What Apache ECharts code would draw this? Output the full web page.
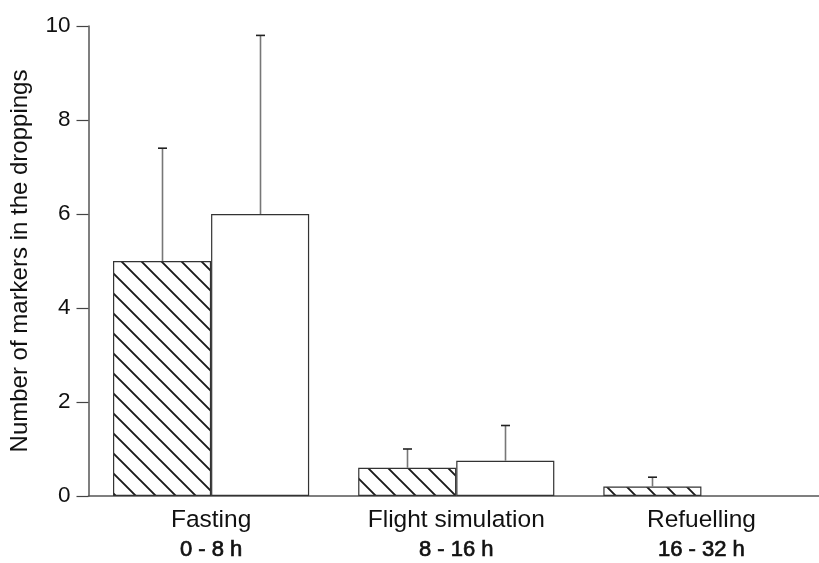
<!DOCTYPE html>
<html>
<head>
<meta charset="utf-8">
<script src="https://cdn.jsdelivr.net/npm/echarts@6/dist/echarts.min.js"></script>
<style>html,body{margin:0;padding:0;background:#fff;overflow:hidden}#c{width:824px;height:563px}</style>
</head>
<body>
<div id="c"></div>
<script>
// ---- data ----
const categories = ['Fasting', 'Flight simulation', 'Refuelling'];
const periods = ['0 - 8 h', '8 - 16 h', '16 - 32 h'];
const hatchedValues = [5.0, 0.6, 0.2];
const hatchedErrTop = [7.4, 1.0, 0.4];
const whiteValues = [6.0, 0.75, 0];
const whiteErrTop = [9.8, 1.5, null];
const yTicks = [0, 2, 4, 6, 8, 10];

// hatch pattern tile
function makeHatch() {
  const s = 20;
  const cv = document.createElement('canvas');
  cv.width = s; cv.height = s;
  const ctx = cv.getContext('2d');
  ctx.fillStyle = '#fff';
  ctx.fillRect(0, 0, s, s);
  ctx.strokeStyle = '#1a1a1a';
  ctx.lineWidth = 1.9;
  ctx.beginPath();
  ctx.moveTo(-2, -2); ctx.lineTo(s + 2, s + 2);
  ctx.moveTo(s - 2, -2); ctx.lineTo(s + 2, 2);
  ctx.moveTo(-2, s - 2); ctx.lineTo(2, s + 2);
  ctx.stroke();
  return cv;
}

function barData(values) {
  return values.map(v => v === 0 ? { value: 0, itemStyle: { borderWidth: 0 } } : v);
}

function errSeries(values, tops, sign) {
  const data = [];
  categories.forEach((c, i) => {
    if (tops[i] != null) data.push([i, values[i], tops[i]]);
  });
  return {
    type: 'custom',
    data: data,
    encode: { x: 0, y: 2 },
    z: 5,
    renderItem: function (params, api) {
      const band = api.size([1, 0])[0];
      const off = band * 0.2 * sign;
      const base = api.coord([api.value(0), api.value(1)]);
      const top = api.coord([api.value(0), api.value(2)]);
      const x = Math.round(base[0] + off) + 0.5;
      return {
        type: 'group',
        children: [
          { type: 'line', shape: { x1: x, y1: base[1], x2: x, y2: top[1] },
            style: { stroke: '#777', lineWidth: 1.6 } },
          { type: 'line', shape: { x1: x - 4.5, y1: top[1], x2: x + 4.5, y2: top[1] },
            style: { stroke: '#222', lineWidth: 1.6 } }
        ]
      };
    }
  };
}

const chart = echarts.init(document.getElementById('c'), null, { renderer: 'canvas' });
const font = '"Liberation Sans", Arial, sans-serif';
chart.setOption({
  animation: false,
  backgroundColor: '#fff',
  grid: { left: 88.5, top: 26, right: 0, bottom: 67, containLabel: false },
  xAxis: {
    type: 'category',
    data: categories,
    axisLine: { lineStyle: { color: '#555', width: 1.5 } },
    axisTick: { length: 12, lineStyle: { color: '#444', width: 1.2 } },
    axisLabel: {
      margin: 10,
      interval: 0,
      formatter: function (v, i) { return '{a|' + v + '}\n{b|' + periods[i] + '}'; },
      rich: {
        a: { fontFamily: font, fontSize: 24.5, color: '#111', lineHeight: 29 },
        b: { fontFamily: font, fontSize: 22, color: '#111', lineHeight: 29,
             textBorderColor: '#111', textBorderWidth: 0.7 }
      }
    },
    splitLine: { show: false }
  },
  yAxis: {
    type: 'value',
    min: 0, max: 10, interval: 2,
    name: 'Number of markers in the droppings',
    nameLocation: 'middle',
    nameGap: 56,
    nameTextStyle: { fontFamily: font, fontSize: 24, color: '#111' },
    axisLine: { show: true, lineStyle: { color: '#555', width: 1.5 } },
    axisTick: { show: true, length: 12, lineStyle: { color: '#444', width: 1.2 } },
    axisLabel: {
      margin: 18, fontFamily: font, fontSize: 22.5, color: '#111',
      formatter: function (v) { return yTicks.indexOf(v) >= 0 ? String(v) : ''; }
    },
    splitLine: { show: false }
  },
  series: [
    {
      type: 'bar',
      data: barData(hatchedValues),
      barGap: '0%',
      barCategoryGap: '20%',
      itemStyle: { color: { image: makeHatch(), repeat: 'repeat' }, borderColor: '#333', borderWidth: 1.2 }
    },
    {
      type: 'bar',
      data: barData(whiteValues),
      barGap: '0%',
      barCategoryGap: '20%',
      itemStyle: { color: '#fff', borderColor: '#333', borderWidth: 1.2 }
    },
    errSeries(hatchedValues, hatchedErrTop, -1),
    errSeries(whiteValues, whiteErrTop, 1)
  ]
});
</script>
</body>
</html>
